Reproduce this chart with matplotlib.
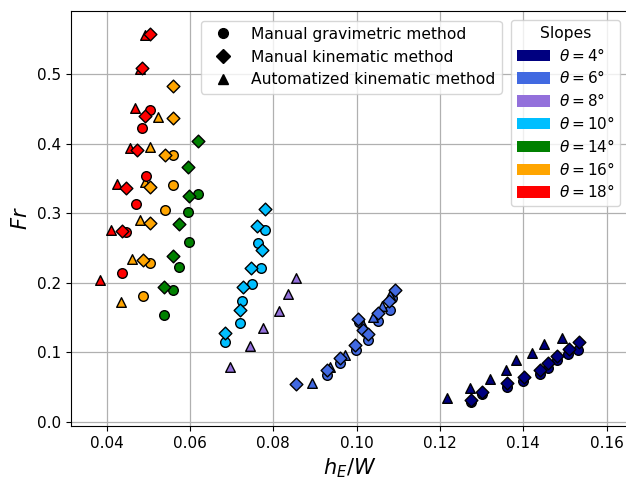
import numpy as np
import matplotlib
matplotlib.use("Agg")
import matplotlib.pyplot as plt
from matplotlib.lines import Line2D
from matplotlib.patches import Patch

# -- slopes and their colours
slopes = [4, 6, 8, 10, 14, 16, 18]
slope_colors = ['navy', 'royalblue', 'mediumpurple', 'deepskyblue', 'green', 'orange', 'red']

# -- h_E/W and Fr per slope, for each method (None = no data)
grav_x = {
  4:  [0.1274, 0.1301, 0.1362, 0.1400, 0.1441, 0.1460, 0.1480, 0.1508, 0.1532],
  6:  [0.0928, 0.0960, 0.0998, 0.1006, 0.1028, 0.1052, 0.1080, 0.1085],
  10: [0.0683, 0.0721, 0.0725, 0.0749, 0.0770, 0.0763, 0.0781],
  14: [0.0618, 0.0594, 0.0598, 0.0574, 0.0559, 0.0538],
  16: [0.0559, 0.0559, 0.0541, 0.0503, 0.0487],
  18: [0.0503, 0.0485, 0.0494, 0.0471, 0.0447, 0.0437],
}
grav_fr = {
  4:  [0.029, 0.040, 0.050, 0.059, 0.069, 0.077, 0.088, 0.097, 0.103],
  6:  [0.067, 0.085, 0.103, 0.143, 0.117, 0.145, 0.161, 0.178],
  10: [0.115, 0.1425, 0.173, 0.198, 0.221, 0.257, 0.275],
  14: [0.328, 0.302, 0.258, 0.222, 0.1895, 0.1535],
  16: [0.384, 0.340, 0.3046, 0.2288, 0.181],
  18: [0.4475, 0.422, 0.354, 0.313, 0.2725, 0.2144],
}

kin_x = {
  4:  [0.1274, 0.1301, 0.1362, 0.1401, 0.1441, 0.1460, 0.1481, 0.1510, 0.1534],
  6:  [0.0854, 0.0928, 0.0960, 0.0996, 0.1004, 0.1016, 0.1028, 0.1050, 0.1078, 0.1092],
  10: [0.0683, 0.0721, 0.0727, 0.0747, 0.0773, 0.0761, 0.0780],
  14: [0.0618, 0.0594, 0.0597, 0.0574, 0.0560, 0.0537],
  16: [0.0558, 0.0558, 0.0541, 0.0503, 0.0503, 0.0487],
  18: [0.0503, 0.0485, 0.0493, 0.0473, 0.0447, 0.0437],
}
kin_fr = {
  4:  [0.031, 0.043, 0.056, 0.064, 0.075, 0.085, 0.0945, 0.104, 0.114],
  6:  [0.054, 0.075, 0.092, 0.110, 0.148, 0.132, 0.126, 0.157, 0.173, 0.1895],
  10: [0.128, 0.160, 0.193, 0.221, 0.247, 0.282, 0.306],
  14: [0.403, 0.366, 0.324, 0.2845, 0.2384, 0.1934],
  16: [0.482, 0.4365, 0.384, 0.338, 0.2864, 0.2327],
  18: [0.558, 0.508, 0.440, 0.391, 0.336, 0.2744],
}

auto_x = {
  4:  [0.1216, 0.1272, 0.1320, 0.1358, 0.1383, 0.1422, 0.1449, 0.1492],
  6:  [0.0893, 0.0936, 0.0972, 0.1016, 0.1040, 0.1060, 0.1080],
  8:  [0.0697, 0.0744, 0.0776, 0.0813, 0.0835, 0.0855],
  16: [0.0523, 0.0503, 0.0491, 0.0479, 0.0461, 0.0435],
  18: [0.0493, 0.0481, 0.0467, 0.0455, 0.0425, 0.0411, 0.0384],
}
auto_fr = {
  4:  [0.034, 0.049, 0.062, 0.075, 0.088, 0.099, 0.111, 0.120],
  6:  [0.056, 0.078, 0.096, 0.139, 0.151, 0.166, 0.182],
  8:  [0.079, 0.109, 0.135, 0.159, 0.183, 0.206],
  16: [0.438, 0.395, 0.345, 0.290, 0.234, 0.1727],
  18: [0.556, 0.507, 0.451, 0.394, 0.3415, 0.275, 0.204],
}

methods = ['Manual gravimetric method', 'Manual kinematic method', 'Automatized kinematic method']
method_markers = ['o', 'D', '^']

# -- figure
fig = plt.figure(figsize=(6.26, 4.82), dpi=100)
ax = fig.add_axes([0.1134, 0.1162, 0.8907, 0.8616])
ax.set_axisbelow(True)
ax.grid(True, color='#b0b0b0', linewidth=0.9)

for slope, col in zip(slopes, slope_colors):
  if slope in grav_x:
    ax.scatter(grav_x[slope], grav_fr[slope], marker='o', s=48, c=col, edgecolors='k', linewidths=1.0, zorder=3)
  if slope in auto_x:
    ax.scatter(auto_x[slope], auto_fr[slope], marker='^', s=48, c=col, edgecolors='k', linewidths=1.0, zorder=3)
  if slope in kin_x:
    ax.scatter(kin_x[slope], kin_fr[slope], marker='D', s=42, c=col, edgecolors='k', linewidths=1.0, zorder=3)

ax.set_xlim(0.03143, 0.16526)
ax.set_ylim(-0.0062, 0.591)
ax.set_xticks([0.04, 0.06, 0.08, 0.10, 0.12, 0.14, 0.16])
ax.set_yticks([0.0, 0.1, 0.2, 0.3, 0.4, 0.5])
ax.tick_params(labelsize=11)
ax.set_xlabel(r'$h_E/W$', fontsize=15)
ax.set_ylabel(r'$Fr$', fontsize=15)

# -- legends: one for the method (marker), one for the slope (colour)
method_handles = [Line2D([], [], marker=m, color='k', linestyle='None', markersize=7) for m in method_markers]
leg1 = ax.legend(method_handles, methods, loc='upper center', bbox_to_anchor=(0.503, 0.995), fontsize=11.2)
ax.add_artist(leg1)

slope_handles = [Patch(facecolor=c) for c in slope_colors]
slope_labels = [r'$\theta = %d°$' % s for s in slopes]
ax.legend(slope_handles, slope_labels, title='Slopes', loc='upper right', bbox_to_anchor=(0.998, 0.995),
          fontsize=11, title_fontsize=11.2, labelspacing=0.38, handlelength=2.15, handleheight=0.78,
          handletextpad=0.6, borderpad=0.35)

fig.savefig('out.png', dpi=100)
